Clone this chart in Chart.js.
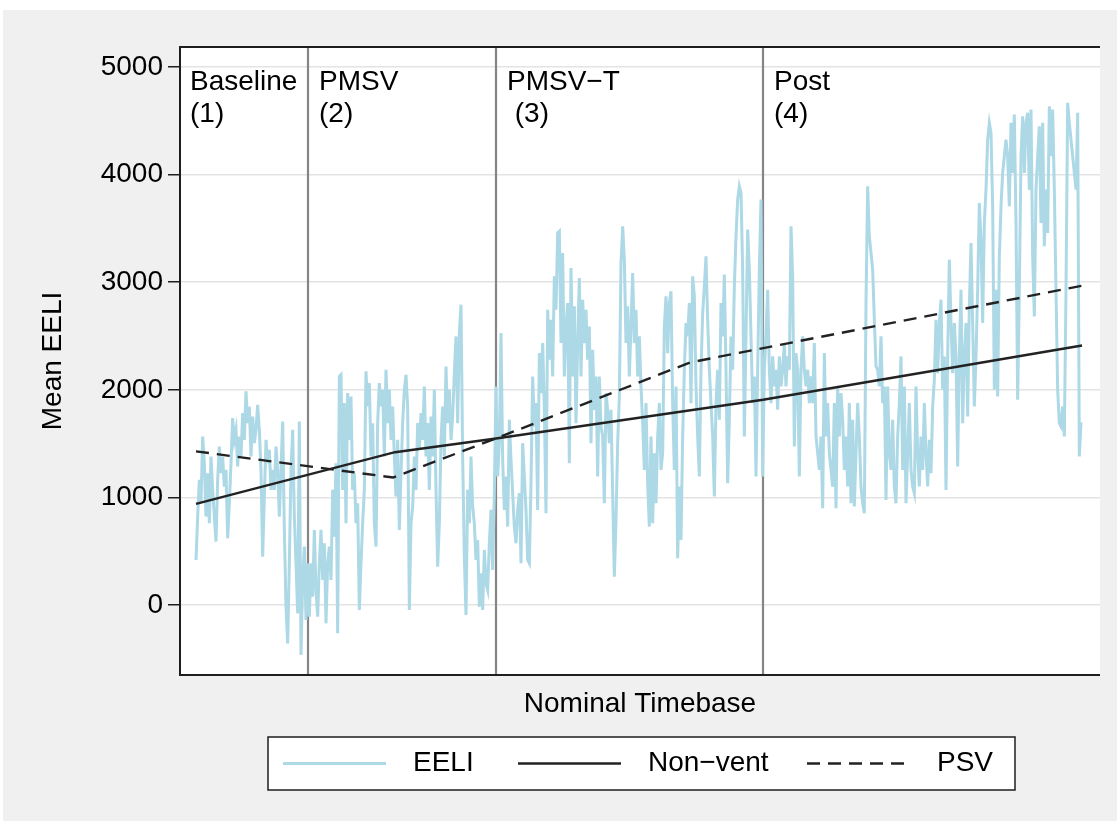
<!DOCTYPE html>
<html>
<head>
<meta charset="utf-8">
<script src="https://cdn.jsdelivr.net/npm/chart.js@4/dist/chart.umd.min.js"></script>
<style>
  html, body { margin: 0; padding: 0; background: #fff; }
  #wrap { position: absolute; left: 3px; top: 10px; width: 1114px; height: 811px; background: #f0f0f0; }
</style>
</head>
<body>
<div id="wrap"><canvas id="chart" width="1114" height="811"></canvas></div>
<script>
// EELI readings, one per timebase step
const eeli = [
  419, 822, 1163, 946, 1566, 1318, 822, 1225, 760, 1380,
  1070, 822, 590, 1163, 1473, 1225, 1380, 1101, 1256, 620,
  946, 1318, 1737, 1535, 1628, 1287, 1566, 1380, 1783, 1535,
  1985, 1690, 1845, 1380, 1752, 1504, 1628, 1860, 1628, 1256,
  450, 1008, 1535, 1318, 1442, 1070, 1256, 1070, 1473, 1256,
  822, 1256, 1705, 698, -15, -356, 388, 1256, 1628, 822,
  388, -77, 1705, -465, 233, 543, -139, 388, -108, 388,
  78, 698, 140, -108, 388, 698, 233, 574, -170, 388,
  543, 233, 1070, 636, 1318, -263,
  2124, 2140, 1070, 1876, 760, 1969, 1535, 1938, 1070, 1225,
  760, 946, -46, 388, 760, 1070, 2171, 1845, 2062, 1380,
  1690, 760, 543, 1690, 2062, 1845, 2000, 1380, 2186, 1690,
  2000, 1535, 1845, 1380, 1008, 1535, 698, 1225, 1690, 2000,
  2140, 1845, -46, 760, 915, 1380, 1070, 1690, 1442, 1783,
  1535, 2031, 1380, 1690, 1070, 1752, 1380, 2000, 1070, 357,
  760, 1535, 1845, 1380, 2217, 1690, 2000, 1535, 1752, 2155,
  2496, 1690, 2527, 2791, 1380, 450, -93, 1070, 760, 1380,
  915, 760, 419, 605, -15, 295, -46, 512, 202, 140,
  574, 884, 326, 1039, 2031, 1194, 1504, 2527, 1349, 884,
  1194, 729, 1721, 1349, 1039, 729, 574, 884, 1039, 388,
  1504, 1194, 884, 419, 388, 1132, 2124, 1659, 1876, 884,
  2341, 1969, 2434, 1814, 853, 2744, 2279, 2651, 2124, 3054,
  2744, 3457, 3472, 2434, 3271, 2124, 2589, 2806, 1318, 3131,
  2124, 2775, 1690, 2434, 3038, 2124, 2837, 2434, 2744, 2279,
  2589, 1504, 2372, 1814, 2124, 1194, 2124, 1659, 1566, 946,
  1969, 1814, 1504, 1814, 1039, 264, 791, 1504, 1938, 3178,
  3519, 3209, 2434, 2775, 2124, 2589, 3085, 2434, 2744, 2124,
  2496, 2031, 1690, 1256, 1876, 1132, 729, 1566, 760, 1411,
  946, 1566, 1876, 1256, 1411, 2589, 2868, 2341, 2806, 2915,
  1876, 1256, 2031, 434, 1101, 605, 1566, 2186, 2620, 2496,
  2806, 1876, 3054, 2868, 2031, 1566, 1194, 2186, 2713, 2961,
  3240, 2651, 2186, 1876, 1566, 1008, 1876, 2186, 1721, 2806,
  2496, 3070, 2186, 1132, 1721, 2496, 2186, 2961, 3426, 3767,
  3891, 3829, 3116, 1566, 2496, 3488, 3116, 2496, 1876, 2124,
  1194, 2186, 3116, 3767, 1194, 2186, 2496, 2930, 2186, 1876,
  2310, 2031, 2186, 1814, 2310, 2031, 2186,
  2434, 2031, 2310, 2186, 3519, 3054, 1473, 2341, 2186, 1194,
  2186, 2496, 2186, 2031, 2186, 1876, 2124, 1876, 2434, 1566,
  1411, 1256, 1566, 900, 2341, 1566, 1876, 1411, 1256, 1101,
  1876, 900, 2031, 1566, 1969, 1721, 1256, 1566, 1101, 1876,
  946, 1721, 915, 1411, 1876, 1566, 1101, 946, 853, 2806,
  3891, 3426, 3271, 3116, 2651, 2217, 2186, 2031, 2496, 1876,
  2031, 977, 2031, 1411, 1256, 1721, 1101, 946, 1566, 1876,
  2310, 1256, 2031, 946, 1411, 1876, 1256, 1101, 1039, 2031,
  1411, 1101, 1566, 1256, 1876, 1411, 1101,
  1535, 1225, 1845, 2093, 2651, 2155, 2620, 2837, 2000, 2310,
  1070, 2310, 3209, 2620, 2155, 2620, 2310, 1287, 2310, 2930,
  1690, 2310, 2620, 1752, 2775, 3364, 2620, 1845, 2310, 2930,
  3736, 3395, 2620, 3550, 3860, 4325, 4480, 4387, 3705, 2000,
  2930, 1938, 3240, 3705, 4015, 4170, 4325, 4170, 3705, 4480,
  4015, 4557, 3550, 1907, 2930, 4170, 4542, 4015, 4480, 4573,
  3860, 4604, 3240, 2682, 3860, 4170, 4449, 3550, 4480, 3333,
  3860, 3457, 4635, 4170, 4604, 3860, 2930, 2000, 1690, 1659,
  1845, 1566, 2930, 4666, 4480, 4325, 4170, 4015, 3860, 4573,
  1380, 1700
];

// fitted lines (timebase, value)
const nonventX = [0, 119.4, 180, 340.2, 531.6];
const nonventY = [940, 1420, 1548, 1907, 2412];
const psvX = [0, 118.2, 180, 296.4, 531.6];
const psvY = [1428, 1185, 1548, 2254, 2967];

// phases
const phaseStart = [67.2, 180, 340.2];
const phaseNames = ['Baseline', 'PMSV', 'PMSV\u2212T', 'Post'];
const phaseNums = ['(1)', '(2)', ' (3)', '(4)'];

const yTicks = [0, 1000, 2000, 3000, 4000, 5000];
const seriesLabels = ['EELI', 'Non\u2212vent', 'PSV'];

const FONT = "'Liberation Sans', Arial, sans-serif";
const FS = 28;

const overlay = {
  id: 'overlay',
  beforeDraw(chart) {
    const { ctx, chartArea: a } = chart;
    ctx.save();
    ctx.fillStyle = '#fff';
    ctx.fillRect(a.left, a.top, a.right - a.left, a.bottom - a.top);
    ctx.restore();
  },
  beforeDatasetsDraw(chart) {
    const { ctx, chartArea: a, scales: { x } } = chart;
    ctx.save();
    ctx.strokeStyle = '#858585';
    ctx.lineWidth = 2.2;
    phaseStart.forEach(v => {
      const px = Math.round(x.getPixelForValue(v));
      ctx.beginPath();
      ctx.moveTo(px, a.top);
      ctx.lineTo(px, a.bottom);
      ctx.stroke();
    });
    ctx.restore();
  },
  afterDraw(chart) {
    const { ctx, chartArea: a, scales: { x } } = chart;
    ctx.save();

    // plot frame (top, left, bottom)
    ctx.strokeStyle = '#1e1e1e';
    ctx.lineWidth = 2;
    ctx.beginPath();
    ctx.moveTo(a.right, a.top);
    ctx.lineTo(a.left, a.top);
    ctx.lineTo(a.left, a.bottom);
    ctx.lineTo(a.right, a.bottom);
    ctx.stroke();

    // phase labels
    ctx.fillStyle = '#000';
    ctx.font = FS + 'px ' + FONT;
    ctx.textBaseline = 'middle';
    ctx.textAlign = 'left';
    phaseNames.forEach((name, i) => {
      const px = (i === 0 ? a.left - 1 : x.getPixelForValue(phaseStart[i - 1])) + 11;
      ctx.fillText(name, px, a.top + 35);
      ctx.fillText(phaseNums[i], px, a.top + 67);
    });

    // axis titles
    ctx.textAlign = 'center';
    ctx.fillText('Nominal Timebase', (a.left + a.right) / 2, a.bottom + 29);
    ctx.save();
    ctx.translate(50, (a.top + a.bottom) / 2);
    ctx.rotate(-Math.PI / 2);
    ctx.fillText('Mean EELI', 0, 0);
    ctx.restore();

    // legend
    const lx = 265, ly = 727, lw = 747, lh = 53;
    ctx.fillStyle = '#fff';
    ctx.fillRect(lx, ly, lw, lh);
    ctx.strokeStyle = '#1e1e1e';
    ctx.lineWidth = 1.5;
    ctx.strokeRect(lx, ly, lw, lh);
    const starts = [15, 250, 539];
    const my = ly + lh / 2;
    chart.data.datasets.forEach((ds, i) => {
      const sx = lx + starts[i];
      ctx.strokeStyle = ds.borderColor;
      ctx.lineWidth = ds.borderWidth;
      ctx.setLineDash(ds.borderDash || []);
      ctx.beginPath();
      ctx.moveTo(sx, my);
      ctx.lineTo(sx + 103, my);
      ctx.stroke();
      ctx.setLineDash([]);
      ctx.fillStyle = '#000';
      ctx.textAlign = 'left';
      ctx.fillText(ds.label, sx + 130, my);
    });
    ctx.restore();
  }
};

new Chart(document.getElementById('chart'), {
  type: 'line',
  data: {
    datasets: [{
      label: seriesLabels[0],
      data: eeli.map((v, i) => ({ x: i, y: v })),
      borderColor: '#add8e6',
      borderWidth: 3,
      pointRadius: 0,
      order: 3,
    }, {
      label: seriesLabels[1],
      data: nonventX.map((v, i) => ({ x: v, y: nonventY[i] })),
      borderColor: '#222222',
      borderWidth: 2.4,
      pointRadius: 0,
      order: 1,
    }, {
      label: seriesLabels[2],
      data: psvX.map((v, i) => ({ x: v, y: psvY[i] })),
      borderColor: '#222222',
      borderWidth: 2.4,
      borderDash: [13, 8],
      pointRadius: 0,
      order: 2,
    }],
  },
  options: {
    responsive: false,
    animation: false,
    layout: { padding: { left: 0, top: 37, right: 17, bottom: 146 } },
    plugins: {
      legend: { display: false },
      tooltip: { enabled: false },
    },
    scales: {
      x: {
        type: 'linear',
        min: -9.6,
        max: 542.4,
        display: false,
      },
      y: {
        min: -650,
        max: 5185,
        afterBuildTicks: s => { s.ticks = yTicks.map(v => ({ value: v })); },
        afterFit: s => { s.width = 177; },
        ticks: {
          color: '#000',
          padding: 5,
          font: { family: FONT, size: FS },
          callback: v => String(v),
        },
        grid: {
          color: '#e3e3e3',
          lineWidth: 1.5,
          tickLength: 12,
          tickColor: '#1e1e1e',
          tickWidth: 1.5,
        },
        border: { display: false },
      }
    }
  },
  plugins: [overlay]
});
</script>
</body>
</html>
